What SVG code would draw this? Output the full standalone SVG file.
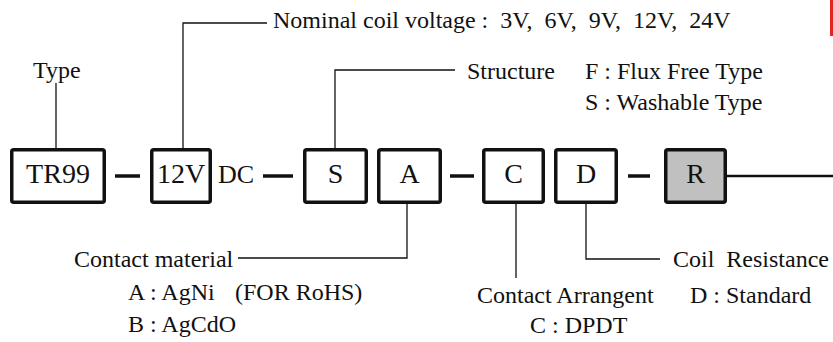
<svg xmlns="http://www.w3.org/2000/svg" width="833" height="342" viewBox="0 0 833 342">
<style>
.box{fill:#fff;stroke:#111;stroke-width:3.5}
.grey{fill:#c0c0c0}
.dash{stroke:#111;stroke-width:3.5;fill:none}
.lead{stroke:#111;stroke-width:1.3;fill:none}
</style>
<rect x="0" y="0" width="833" height="342" fill="#fff"/>
<rect x="830" y="0" width="3" height="36" fill="#e0261e"/>
<g id="connectors">
<line class="dash" x1="115" y1="176" x2="140" y2="176"/>
<line class="dash" x1="263" y1="176" x2="293" y2="176"/>
<line class="dash" x1="450" y1="176" x2="474" y2="176"/>
<line class="dash" x1="628" y1="176" x2="650" y2="176"/>
<line stroke="#111" stroke-width="2.5" x1="727" y1="176" x2="833" y2="176"/>
<polyline class="lead" points="56,83 56,149"/>
<polyline class="lead" points="267,23 183,23 183,149"/>
<polyline class="lead" points="455,70 335,70 335,149"/>
<polyline class="lead" points="407,203 407,258 238,258"/>
<polyline class="lead" points="516,203 516,278"/>
<polyline class="lead" points="586,203 586,259 660,259"/>
</g>
<g id="node-tr99"><rect class="box" x="11.75" y="149.75" width="92.5" height="52.5" rx="2"/><text x="58" y="183" font-family="Liberation Serif" font-size="28" text-anchor="middle" fill="#111">TR99</text></g>
<g id="node-12v"><rect class="box" x="151.75" y="149.75" width="58.5" height="52.5" rx="2"/><text x="181" y="183" font-family="Liberation Serif" font-size="28" text-anchor="middle" fill="#111">12V</text></g>
<g id="node-dc"><text x="218" y="183" font-family="Liberation Serif" font-size="26" fill="#111">DC</text></g>
<g id="node-s"><rect class="box" x="304.75" y="149.75" width="61.5" height="52.5" rx="2"/><text x="335.5" y="183" font-family="Liberation Serif" font-size="28" text-anchor="middle" fill="#111">S</text></g>
<g id="node-a"><rect class="box" x="378.75" y="149.75" width="61.5" height="52.5" rx="2"/><text x="409.5" y="183" font-family="Liberation Serif" font-size="28" text-anchor="middle" fill="#111">A</text></g>
<g id="node-c"><rect class="box" x="483.75" y="149.75" width="59.5" height="52.5" rx="2"/><text x="513.5" y="183" font-family="Liberation Serif" font-size="28" text-anchor="middle" fill="#111">C</text></g>
<g id="node-d"><rect class="box" x="555.75" y="149.75" width="60.5" height="52.5" rx="2"/><text x="586" y="183" font-family="Liberation Serif" font-size="28" text-anchor="middle" fill="#111">D</text></g>
<g id="node-r"><rect class="box grey" x="665.75" y="149.75" width="59.5" height="52.5" rx="2"/><text x="695.5" y="183" font-family="Liberation Serif" font-size="28" text-anchor="middle" fill="#111">R</text></g>
<g id="label-type"><text x="33" y="78" font-family="Liberation Serif" font-size="24" fill="#111">Type</text></g>
<g id="label-voltage"><text x="273" y="28" font-family="Liberation Serif" font-size="24" fill="#111" xml:space="preserve">Nominal coil voltage :  3V,  6V,  9V,  12V,  24V</text></g>
<g id="label-structure"><text x="467" y="79" font-family="Liberation Serif" font-size="24" fill="#111">Structure</text><text x="585" y="79" font-family="Liberation Serif" font-size="24" fill="#111">F : Flux Free Type</text><text x="585" y="110" font-family="Liberation Serif" font-size="24" fill="#111">S : Washable Type</text></g>
<g id="label-material"><text x="74" y="267" font-family="Liberation Serif" font-size="24" fill="#111">Contact material</text><text x="128" y="300" font-family="Liberation Serif" font-size="24" fill="#111">A : AgNi</text><text x="235" y="300" font-family="Liberation Serif" font-size="24" fill="#111">(FOR RoHS)</text><text x="128" y="332" font-family="Liberation Serif" font-size="24" fill="#111">B : AgCdO</text></g>
<g id="label-arrangement"><text x="477" y="303" font-family="Liberation Serif" font-size="24" fill="#111">Contact Arrangent</text><text x="530" y="333" font-family="Liberation Serif" font-size="24" fill="#111">C : DPDT</text></g>
<g id="label-coil"><text x="673" y="267" font-family="Liberation Serif" font-size="24" fill="#111" xml:space="preserve">Coil  Resistance</text><text x="690" y="303" font-family="Liberation Serif" font-size="24" fill="#111">D : Standard</text></g>
</svg>
